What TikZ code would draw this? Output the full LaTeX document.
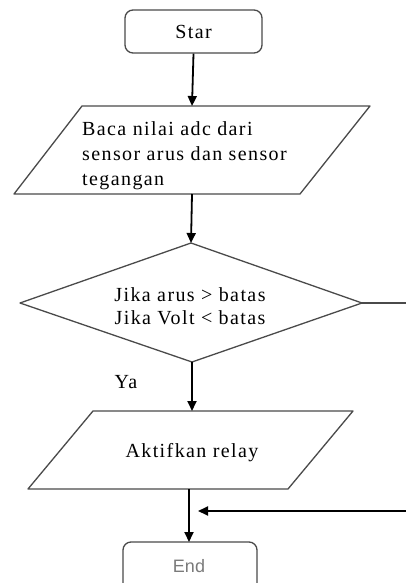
\documentclass[tikz,border=0pt]{standalone}
\usepackage{fontspec}
\setmainfont{Liberation Serif}[LetterSpace=7]
\newfontfamily\labelsans{Liberation Sans}
\usetikzlibrary{arrows.meta}
\definecolor{edge}{HTML}{4A4A4A}
\definecolor{endtext}{HTML}{7A7A7A}
\begin{document}
\begin{tikzpicture}[x=1pt,y=-1pt,
  outline/.style={draw=edge,line width=1.3pt},
  flow/.style={draw=black,line width=1.8pt,-{Triangle[length=10pt,width=9pt]}},
  txt/.style={font=\fontsize{20}{25}\selectfont,inner sep=0pt}]
\useasboundingbox (0,0) rectangle (406,583);

% terminal: start
\node[outline,rounded corners=8pt,minimum width=137pt,minimum height=43pt,
      txt] (start) at (193.5,31.5) {Star};

% input: read sensors
\draw[outline,line join=round] (82,106) -- (370,106) -- (300,194) -- (14,194) -- cycle;
\coordinate (readtop) at (192,106);
\coordinate (readbot) at (192,194);
\node[txt,anchor=west,align=left] (read) at (82,156)
  {Baca nilai adc dari\\sensor arus dan sensor\\tegangan};

% decision
\draw[outline,line join=round] (191,243) -- (362,303) -- (192,362) -- (20,303) -- cycle;
\coordinate (dtop) at (191,243);
\coordinate (dright) at (362,303);
\coordinate (dbot) at (192,362);
\coordinate (dexit) at (406,303);
\node[txt,align=center,font=\fontsize{20}{23}\selectfont] (cond) at (190,306)
  {Jika arus > batas\\Jika Volt < batas};
\node[txt] (ya) at (126,382) {Ya};

% output: relay
\draw[outline,line join=round] (93,411) -- (353,411) -- (288,489) -- (28,489) -- cycle;
\coordinate (acttop) at (192,411);
\coordinate (actbot) at (189,489);
\node[txt] (act) at (192,453) {Aktifkan relay};

% terminal: end (runs past the lower edge)
\begin{scope}
\clip (0,0) rectangle (406,583);
\draw[outline,rounded corners=8pt] (123,600) -- (123,542) -- (257,542) -- (257,600);
\end{scope}
\coordinate (endtop) at (189,542);
\node[inner sep=0pt,font=\labelsans\fontsize{18}{20}\selectfont,text=endtext] (endlbl) at (189,566) {End};

% return path from the "no" branch
\coordinate (back) at (406,511);
\coordinate (join) at (198,511);

% connectors
\draw[flow] (start.south) -- (readtop);
\draw[flow] (readbot) -- (dtop);
\draw[flow] (dbot) -- (acttop);
\draw[flow] (actbot) -- (endtop);
\draw[draw=edge,line width=1.3pt] (dright) -- (dexit);
\draw[flow] (back) -- (join);
\end{tikzpicture}
\end{document}
